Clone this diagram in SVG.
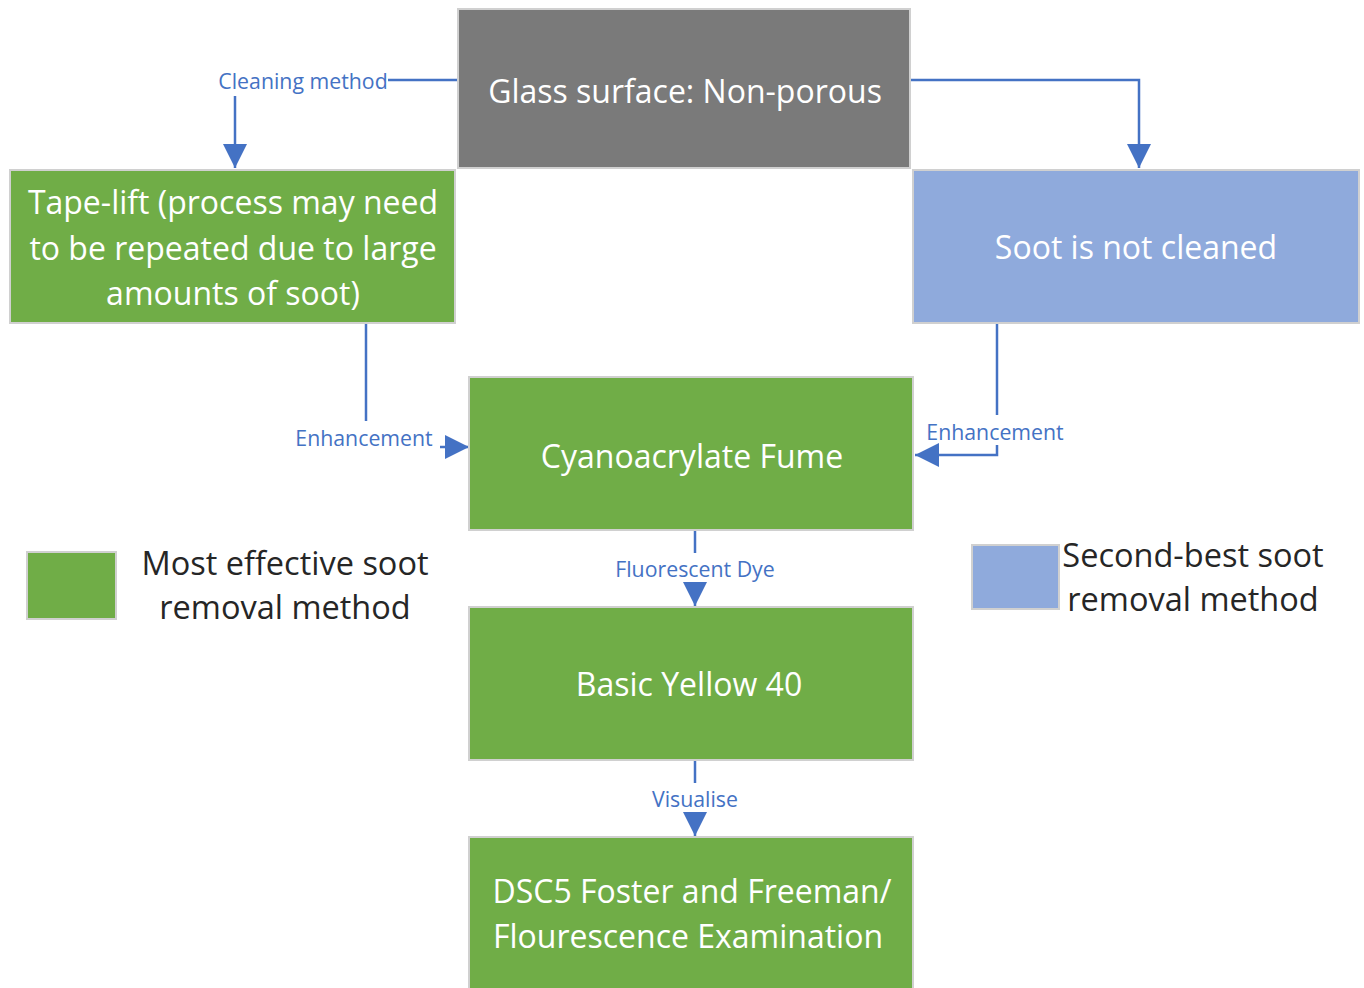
<svg xmlns="http://www.w3.org/2000/svg" width="1364" height="988" viewBox="0 0 1364 988">
<defs>
<marker id="ah" viewBox="0 0 10 10" refX="10" refY="5" markerWidth="24" markerHeight="24" markerUnits="userSpaceOnUse" orient="auto">
<path d="M0,0 L10,5 L0,10 z" fill="#4472c4"/>
</marker>
<style>
.box{stroke:#d0d0d0;stroke-width:2}
.g{fill:#70ad47}
.b{fill:#8faadc}
.t{font-family:"Open Sans","Noto Sans",sans-serif;fill:#ffffff;text-anchor:middle;dominant-baseline:central;font-size:32px}
.lbl{font-family:"Open Sans","Noto Sans",sans-serif;fill:#4472c4;text-anchor:middle;dominant-baseline:central;font-size:21.3px}
.leg{font-family:"Open Sans","Noto Sans",sans-serif;fill:#262626;text-anchor:middle;dominant-baseline:central;font-size:32.5px}
.c{fill:none;stroke:#4472c4;stroke-width:2.5}
</style>
</defs>
<rect width="1364" height="988" fill="#ffffff"/>
<g id="connectors">
<path class="c" d="M458,80 H388"/>
<path class="c" d="M235,96 V168" marker-end="url(#ah)"/>
<path class="c" d="M910,80 H1139 V168" marker-end="url(#ah)"/>
<path class="c" d="M366,323 V421"/>
<path class="c" d="M440,447 H469" marker-end="url(#ah)"/>
<path class="c" d="M997,323 V415"/>
<path class="c" d="M997,445 V455 H915" marker-end="url(#ah)"/>
<path class="c" d="M695,530 V553"/>
<path class="c" d="M695,583 V606" marker-end="url(#ah)"/>
<path class="c" d="M695,760 V783"/>
<path class="c" d="M695,813 V836" marker-end="url(#ah)"/>
<text class="lbl" x="303" y="80">Cleaning method</text>
<text class="lbl" x="364" y="437">Enhancement</text>
<text class="lbl" x="995" y="431">Enhancement</text>
<text class="lbl" x="695" y="568">Fluorescent Dye</text>
<text class="lbl" x="695" y="798">Visualise</text>
</g>
<g id="glass">
<rect class="box" x="458" y="9" width="452" height="159" fill="#7a7a7a"/>
<text class="t" x="685" y="90">Glass surface: Non-porous</text>
</g>
<g id="tapelift">
<rect class="box g" x="10" y="170" width="445" height="153"/>
<text class="t" x="233" y="201">Tape-lift (process may need</text>
<text class="t" x="233" y="247">to be repeated due to large</text>
<text class="t" x="233" y="292">amounts of soot)</text>
</g>
<g id="soot">
<rect class="box b" x="913" y="170" width="446" height="153"/>
<text class="t" x="1136" y="246">Soot is not cleaned</text>
</g>
<g id="cyano">
<rect class="box g" x="469" y="377" width="444" height="153"/>
<text class="t" x="692" y="455">Cyanoacrylate Fume</text>
</g>
<g id="basicyellow">
<rect class="box g" x="469" y="607" width="444" height="153"/>
<text class="t" x="689" y="683">Basic Yellow 40</text>
</g>
<g id="dsc5">
<rect class="box g" x="469" y="837" width="444" height="160"/>
<text class="t" x="692" y="890">DSC5 Foster and Freeman/</text>
<text class="t" x="688" y="935">Flourescence Examination</text>
</g>
<g id="legend-green">
<rect class="box g" x="27" y="552" width="89" height="67"/>
<text class="leg" x="285" y="562">Most effective soot</text>
<text class="leg" x="285" y="606">removal method</text>
</g>
<g id="legend-blue">
<rect class="box b" x="972" y="545" width="87" height="64"/>
<text class="leg" x="1193" y="554">Second-best soot</text>
<text class="leg" x="1193" y="598">removal method</text>
</g>
</svg>
